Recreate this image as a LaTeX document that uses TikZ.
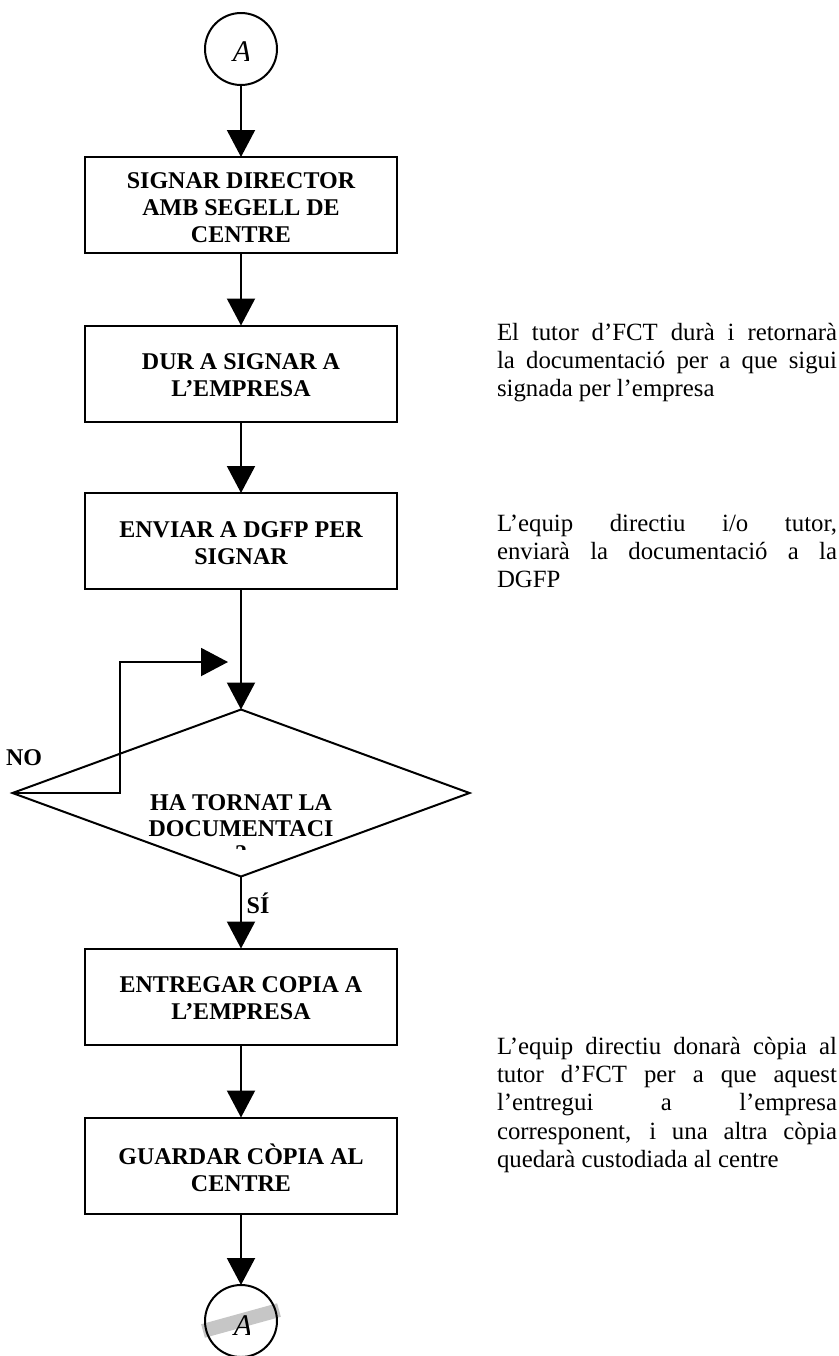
\documentclass[tikz,border=0pt]{standalone}
\usepackage{fontspec}
\setmainfont{Liberation Serif}
\usetikzlibrary{shapes.geometric,arrows.meta}
\begin{document}
\begin{tikzpicture}[x=0.5pt,y=-0.5pt,line width=1pt,
  proc/.style={draw,rectangle,minimum width=156pt,minimum height=48pt,inner sep=0pt,outer sep=0pt},
  ptext/.style={align=center,inner sep=0pt,font=\bfseries\fontsize{12}{13.5}\selectfont},
  conn/.style={draw,circle,minimum size=36pt,inner sep=0pt,outer sep=0pt},
  arr/.style={-{Triangle[width=14pt,length=13.5pt]}},
  note/.style={text width=170pt,align=justify,inner sep=0pt,anchor=base east,font=\fontsize{12.4}{14.2}\selectfont},
  lbl/.style={font=\bfseries\fontsize{12}{13}\selectfont,inner sep=0pt},
  letter/.style={font=\itshape\fontsize{15}{15}\selectfont,inner sep=0pt}]
\useasboundingbox (0,0) rectangle (839,1356);

% top connector
\node[conn] (c1) at (241,49) {};
\begin{scope}
  \clip (215,25) rectangle (248,75);
  \node[letter] (a1) at (242,52) {A};
\end{scope}

% process boxes
\node[proc] (b1) at (241,205) {};
\node[ptext] (t1) at (241,208) {SIGNAR DIRECTOR\\AMB SEGELL DE\\CENTRE};
\node[proc] (b2) at (241,373.5) {};
\node[ptext] (t2) at (241,375) {DUR A SIGNAR A\\L’EMPRESA};
\node[proc] (b3) at (241,541) {};
\node[ptext] (t3) at (241,543) {ENVIAR A DGFP PER\\SIGNAR};

% decision
\node[draw,diamond,minimum width=228.5pt,minimum height=83.5pt,inner sep=0pt,outer sep=0pt] (d) at (241,793) {};
\node[lbl,align=center] (dt) at (241,816) {HA TORNAT LA\\DOCUMENTACI};
\begin{scope}
  \clip (200,840) rectangle (282,849);
  \node[lbl] (dq) at (241,854) {?};
\end{scope}

\node[proc] (b4) at (241,996.5) {};
\node[ptext] (t4) at (241,998) {ENTREGAR COPIA A\\L’EMPRESA};
\node[proc] (b5) at (241,1165.5) {};
\node[ptext] (t5) at (241,1168) {GUARDAR CÒPIA AL\\CENTRE};

% bottom connector
\draw[gray!45,line width=7pt] (203,1331) -- (279,1310);
\node[conn] (c2) at (241,1321) {};
\begin{scope}
  \clip (215,1300) rectangle (249,1345);
  \node[letter] (a2) at (243,1326) {A};
\end{scope}

% connectors
\draw[arr] (c1) -- (b1);
\draw[arr] (b1) -- (b2);
\draw[arr] (b2) -- (b3);
\draw[arr] (b3) -- (d.north);
\draw[arr] (d.south) -- (b4);
\draw[arr] (b4) -- (b5);
\draw[arr] (b5) -- (c2);

% loop back
\coordinate (k1) at (120,793);
\coordinate (lp) at (228,662);
\draw[arr] (d.west) -- (k1) |- (lp);

\node[lbl] (no) at (24,758) {NO};
\node[lbl] (si) at (258,903) {SÍ};

% notes
\node[note] (n1) at (838,340) {El tutor d’FCT durà i retornarà\linebreak la documentació per a que sigui\linebreak signada per l’empresa};
\node[note] (n2) at (838,531) {L’equip directiu i/o tutor,\linebreak enviarà la documentació a la\linebreak DGFP};
\node[note] (n3) at (838,1054) {L’equip directiu donarà còpia al\linebreak tutor d’FCT per a que aquest\linebreak l’entregui a l’empresa\linebreak corresponent, i una altra còpia\linebreak quedarà custodiada al centre};
\end{tikzpicture}
\end{document}
